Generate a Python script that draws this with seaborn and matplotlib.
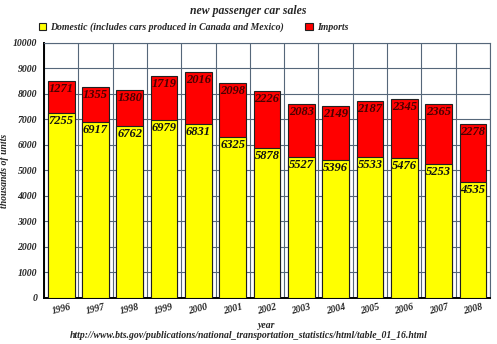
import matplotlib
matplotlib.use("Agg")
import matplotlib.pyplot as plt
import seaborn as sns
import pandas as pd
import numpy as np
from matplotlib.patches import Patch

years = ["1996", "1997", "1998", "1999", "2000", "2001", "2002", "2003", "2004", "2005", "2006", "2007", "2008"]
domestic = [7255, 6917, 6762, 6979, 6831, 6325, 5878, 5527, 5396, 5533, 5476, 5253, 4535]
imports = [1271, 1355, 1380, 1719, 2016, 2098, 2226, 2083, 2149, 2187, 2345, 2365, 2278]
y_ticks = [0, 1000, 2000, 3000, 4000, 5000, 6000, 7000, 8000, 9000, 10000]

df = pd.DataFrame({"year": years, "domestic": domestic, "imports": imports})
df["total"] = df["domestic"] + df["imports"]

sns.set_style("white")
plt.rcParams["font.family"] = ["Liberation Serif", "DejaVu Serif"]

fig = plt.figure(figsize=(4.97, 3.44), dpi=100)
ax = fig.add_axes([0.0885, 0.134, 0.8975, 0.741])

sns.barplot(data=df, x="year", y="total", color="#ff0000", saturation=1,
            edgecolor="#202020", linewidth=0.8, width=0.78, ax=ax, zorder=3)
sns.barplot(data=df, x="year", y="domestic", color="#ffff00", saturation=1,
            edgecolor="#202020", linewidth=0.8, width=0.78, ax=ax, zorder=3)

fp = dict(fontweight="bold", fontstyle="italic")
for i in range(len(years)):
    ax.annotate(str(domestic[i]), (i, domestic[i]), xytext=(0, -1.5), textcoords="offset points",
                ha="center", va="top", fontsize=9, color="#111111", zorder=5, **fp)
    ax.annotate(str(imports[i]), (i, df["total"][i]), xytext=(0, -1.5), textcoords="offset points",
                ha="center", va="top", fontsize=9, color="#4a0000", zorder=5, **fp)

ax.set_xlim(-0.5, len(years) - 0.5)
ax.set_ylim(0, 10000)
ax.set_yticks(y_ticks)
ax.set_yticklabels([str(t) for t in y_ticks], fontsize=7, **fp)
ax.set_xticks(range(len(years)))
ax.set_xticklabels(years, fontsize=7, rotation=14, **fp)
ax.set_xticks(np.arange(-0.5, len(years)), minor=True)
ax.tick_params(axis="x", which="major", length=0, pad=3)
ax.tick_params(axis="x", which="minor", length=3, width=0.8, color="black")
ax.tick_params(axis="y", which="major", length=3, width=0.8, color="black", pad=2)

ax.grid(True, axis="y", which="major", color="#56677a", linewidth=0.8, zorder=0)
ax.grid(True, axis="x", which="minor", color="#56677a", linewidth=0.8, zorder=0)
ax.grid(False, axis="x", which="major")
ax.set_axisbelow(True)

for s in ["top", "right"]:
    ax.spines[s].set_color("#56677a")
    ax.spines[s].set_linewidth(0.8)
for s in ["left", "bottom"]:
    ax.spines[s].set_color("black")
    ax.spines[s].set_linewidth(1.4)

ax.set_xlabel("year", fontsize=7, labelpad=4, **fp)
ax.set_ylabel("thousands of units", fontsize=7, **fp)
ax.yaxis.set_label_coords(-0.078, 0.5)

fig.text(0.5, 0.968, "new passenger car sales", ha="center", va="center", fontsize=8.5, **fp)
fig.text(0.5, 0.025, "http://www.bts.gov/publications/national_transportation_statistics/html/table_01_16.html",
         ha="center", va="center", fontsize=7, **fp)

handles = [Patch(facecolor="#ffff00", edgecolor="#202020", linewidth=0.8),
           Patch(facecolor="#ff0000", edgecolor="#202020", linewidth=0.8)]
fig.legend(handles, ["Domestic (includes cars produced in Canada and Mexico)", "Imports"],
           loc="center left", bbox_to_anchor=(0.06, 0.92), ncol=2, frameon=False,
           prop=dict(size=7, weight="bold", style="italic"), handlelength=0.8, handleheight=0.8,
           handletextpad=0.4, columnspacing=2.2)

fig.savefig("out.png", dpi=100)
